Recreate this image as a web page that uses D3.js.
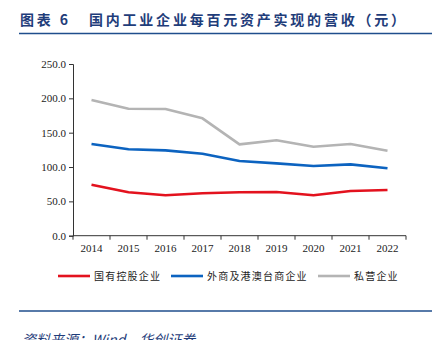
<!DOCTYPE html>
<html>
<head>
<meta charset="utf-8">
<script src="https://cdn.jsdelivr.net/npm/d3@7"></script>
<style>
  body { margin: 0; background: #fff; }
  svg { display: block; }
</style>
</head>
<body>
<div id="chart"></div>
<script>
const years = ["2014", "2015", "2016", "2017", "2018", "2019", "2020", "2021", "2022"];
const stateOwned = [74.2, 63.2, 58.8, 61.7, 63.2, 63.6, 58.8, 65.1, 66.5];
const foreign = [133.5, 125.8, 124.3, 119.4, 108.7, 105.3, 101.4, 103.9, 98.1];
const privateEnt = [197.5, 184.9, 184.5, 170.9, 133.0, 138.9, 129.6, 133.5, 123.7];
const seriesNames = ["国有控股企业", "外商及港澳台商企业", "私营企业"];
const yTicks = [0, 50, 100, 150, 200, 250];

const colors = ["#e3121e", "#0c63c0", "#b4b4b4"];
const series = [stateOwned, foreign, privateEnt];

const W = 432, H = 340;
const svg = d3.select("#chart").append("svg")
  .attr("width", W).attr("height", H);

// title
const titleStyle = sel => sel
  .attr("fill", "#1f3d7a")
  .style("font-family", "'Noto Sans CJK SC', sans-serif")
  .style("font-weight", "bold")
  .style("font-size", "14px");
svg.append("text").attr("x", 20).attr("y", 25)
  .attr("textLength", 48).attr("lengthAdjust", "spacing")
  .call(titleStyle).text("图表 6");
svg.append("text").attr("x", 89).attr("y", 25)
  .attr("textLength", 316).attr("lengthAdjust", "spacing")
  .call(titleStyle).text("国内工业企业每百元资产实现的营收（元）");

svg.append("line")
  .attr("x1", 19).attr("x2", W).attr("y1", 33.5).attr("y2", 33.5)
  .attr("stroke", "#1f4e8c").attr("stroke-width", 1.5);

const x = d3.scaleBand().domain(years).range([73, 406]);
const y = d3.scaleLinear().domain([0, 250]).range([235.7, 64]);

// x axis
const xg = svg.append("g").attr("transform", `translate(0,${y(0)})`);
xg.append("line").attr("x1", 73).attr("x2", 406).attr("stroke", "#333");
xg.selectAll(".tk").data(d3.range(years.length + 1)).join("line")
  .attr("x1", i => 73 + i * x.step()).attr("x2", i => 73 + i * x.step())
  .attr("y1", 0).attr("y2", 4).attr("stroke", "#333");
xg.selectAll("text").data(years).join("text")
  .attr("x", d => x(d) + x.bandwidth() / 2).attr("y", 16)
  .attr("text-anchor", "middle")
  .style("font-family", "'Liberation Serif', serif").style("font-size", "11px")
  .attr("fill", "#222")
  .text(d => d);

// y axis
const yAxis = d3.axisLeft(y).tickValues(yTicks).tickSize(4).tickPadding(3)
  .tickFormat(d3.format(".1f"));
const yg = svg.append("g").attr("transform", "translate(73,0)").call(yAxis);
yg.select(".domain").attr("stroke", "#333");
yg.selectAll(".tick line").attr("stroke", "#333");
yg.selectAll(".tick text")
  .style("font-family", "'Liberation Serif', serif").style("font-size", "11px")
  .attr("fill", "#222");

// lines
const line = d3.line()
  .x((d, i) => x(years[i]) + x.bandwidth() / 2)
  .y(d => y(d));
svg.selectAll(".series").data(series).join("path")
  .attr("fill", "none")
  .attr("stroke", (d, i) => colors[i])
  .attr("stroke-width", 2.6)
  .attr("stroke-linejoin", "round")
  .attr("d", line);

// legend
const legX = [58, 171, 318];
const lg = svg.selectAll(".leg").data(seriesNames).join("g")
  .attr("transform", (d, i) => `translate(${legX[i]},276)`);
lg.append("line").attr("x1", 0).attr("x2", 32)
  .attr("stroke", (d, i) => colors[i]).attr("stroke-width", 2.6);
lg.append("text").attr("x", 36).attr("y", 4)
  .style("font-family", "'Noto Sans CJK SC', sans-serif").style("font-size", "10px")
  .style("letter-spacing", "1.2px")
  .attr("fill", "#222")
  .text(d => d);

// bottom rule and source
svg.append("line")
  .attr("x1", 19).attr("x2", W).attr("y1", 311).attr("y2", 311)
  .attr("stroke", "#1f4e8c").attr("stroke-width", 1.5);
svg.append("text")
  .attr("x", 22).attr("y", 345)
  .attr("fill", "#1f3d7a")
  .style("font-family", "'Noto Sans CJK SC', sans-serif")
  .style("font-style", "italic")
  .style("font-size", "14px")
  .text("资料来源：Wind，华创证券");
</script>
</body>
</html>
